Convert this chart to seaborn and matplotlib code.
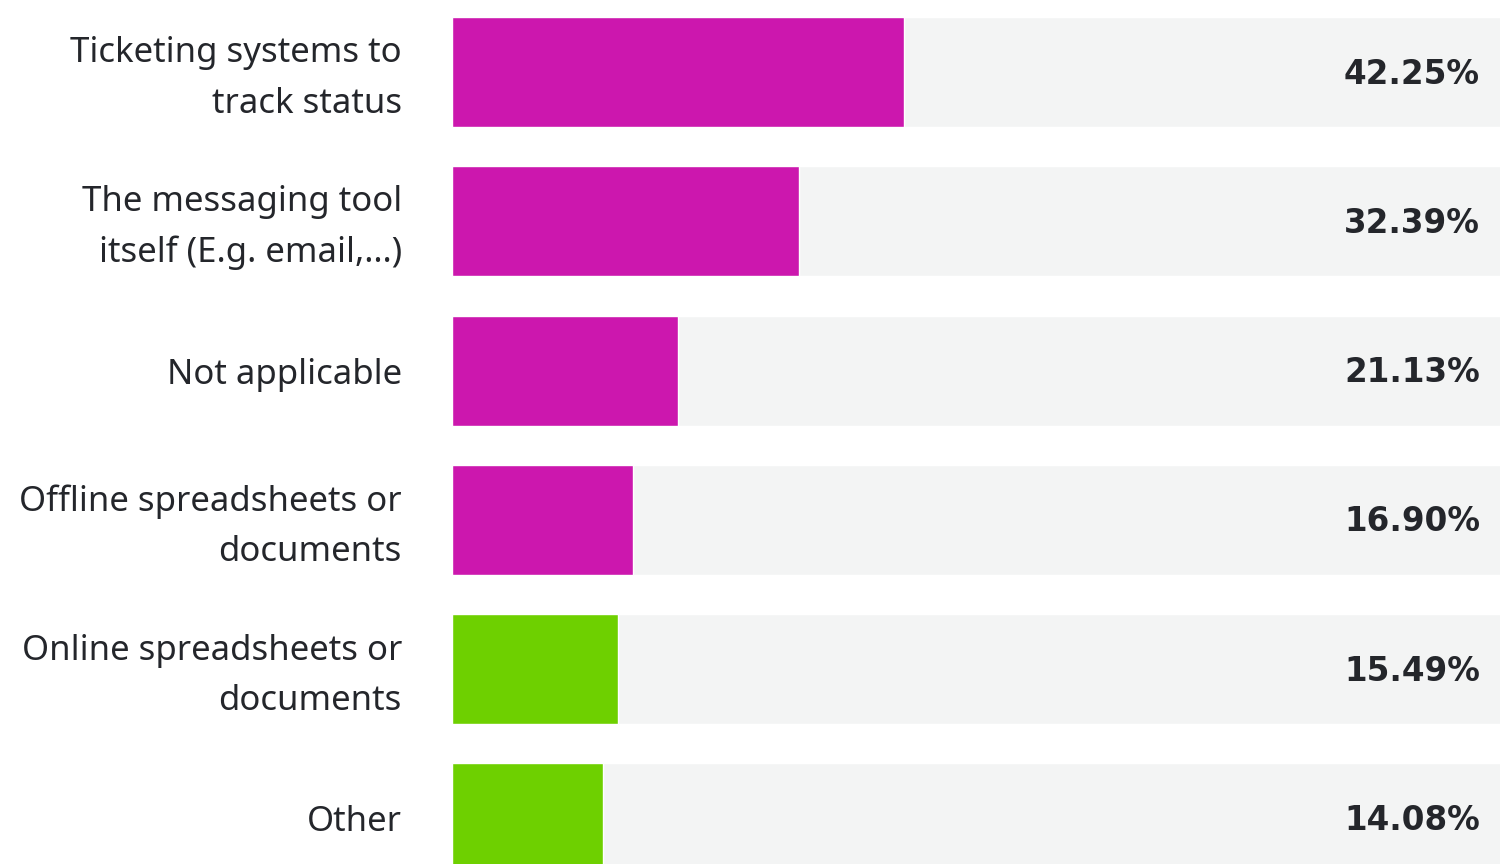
import matplotlib
matplotlib.use("Agg")
import matplotlib.pyplot as plt
import matplotlib.transforms as mtrans
import seaborn as sns
import pandas as pd

categories = [
    "Ticketing systems to\ntrack status",
    "The messaging tool\nitself (E.g. email,…)",
    "Not applicable",
    "Offline spreadsheets or\ndocuments",
    "Online spreadsheets or\ndocuments",
    "Other",
]
values = [42.25, 32.39, 21.13, 16.90, 15.49, 14.08]
value_labels = ["42.25%", "32.39%", "21.13%", "16.90%", "15.49%", "14.08%"]
bar_colors = ["#CC17AE", "#CC17AE", "#CC17AE", "#CC17AE", "#6ED000", "#6ED000"]
full_scale = [100] * len(categories)

sns.set_theme(style="white")
plt.rcParams["font.family"] = ["Noto Sans", "DejaVu Sans"]

df = pd.DataFrame({"category": categories, "value": values, "full": full_scale})

W, H = 1500, 864
fig = plt.figure(figsize=(W / 100, H / 100), dpi=100)
ax = fig.add_axes([452 / W, 0, 1 - 452 / W, 1])

bw = 110 / 149.3
sns.barplot(data=df, y="category", x="full", color="#F3F4F4", width=bw,
            ax=ax, orient="h", saturation=1)
sns.barplot(data=df, y="category", x="value", hue="category",
            palette=bar_colors, width=bw, ax=ax, orient="h",
            saturation=1, legend=False)

ax.set_xlim(0, 1048 / 10.7)
px = 149.3
ax.set_ylim(5 + (864 - 818.5) / px, -72 / px)

for i, lab in enumerate(value_labels):
    ax.text((1480 - 452) / 10.7, i + 2 / px, lab, ha="right", va="center",
            fontsize=23.5, fontweight="bold", color="#24262B",
            family=["DejaVu Sans"])

ax.set_xlabel("")
ax.set_ylabel("")
ax.set_xticks([])
ax.tick_params(axis="y", length=0, pad=36)
for t in ax.get_yticklabels():
    t.set_fontsize(25)
    t.set_color("#24262B")
    t.set_linespacing(1.62)
    t.set_ha("right")
    if "\n" in t.get_text():
        t.set_transform(t.get_transform() +
                        mtrans.ScaledTranslation(0, 4 / 72, fig.dpi_scale_trans))
sns.despine(ax=ax, left=True, bottom=True, top=True, right=True)

fig.savefig("out.png", dpi=100)
